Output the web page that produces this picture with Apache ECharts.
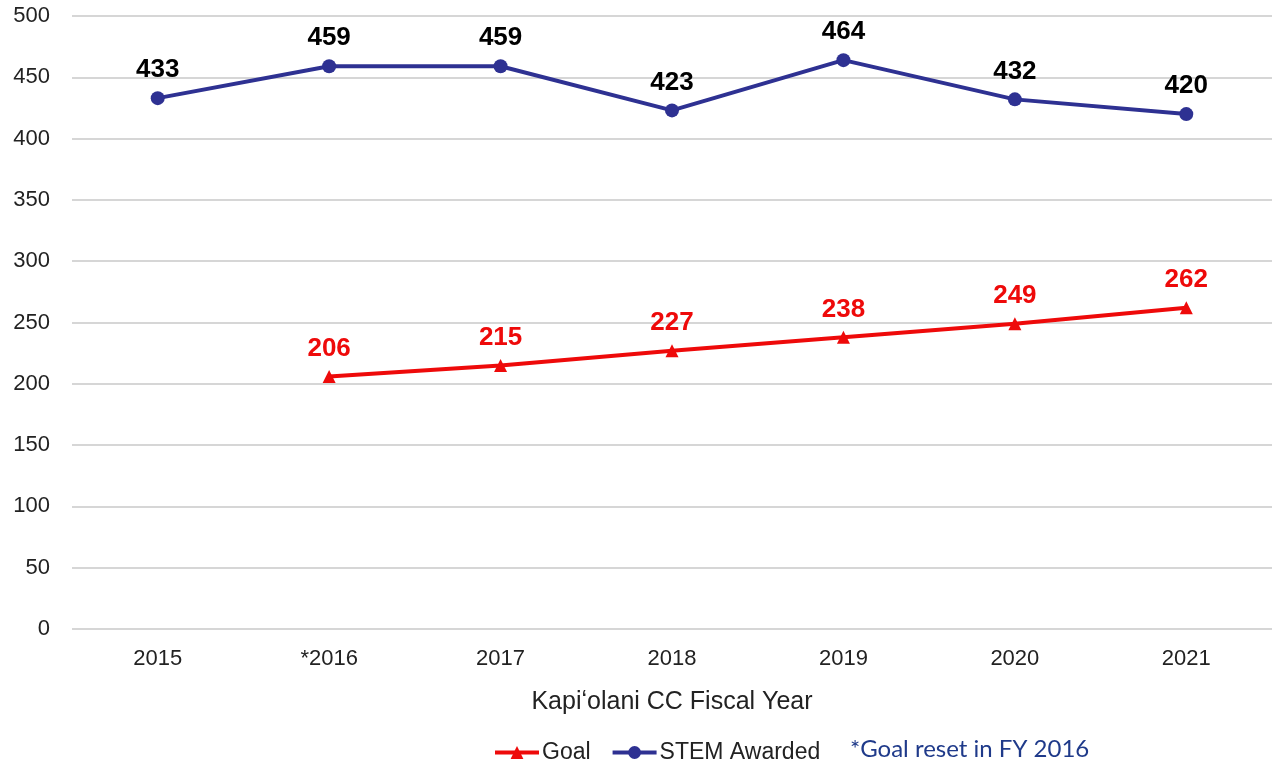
<!DOCTYPE html>
<html>
<head>
<meta charset="utf-8">
<script src="https://cdn.jsdelivr.net/npm/echarts@6/dist/echarts.min.js"></script>
<style>
  html, body { margin: 0; padding: 0; background: #fff; }
  #chart { width: 1272px; height: 761px; }
</style>
</head>
<body>
<div id="chart"></div>
<script>
// Fiscal years on the category axis
const years = ['2015', '*2016', '2017', '2018', '2019', '2020', '2021'];
// STEM degrees and certificates awarded
const stemAwarded = [433, 459, 459, 423, 464, 432, 420];
// Goal (reset in FY 2016, so no value for 2015)
const goal = [null, 206, 215, 227, 238, 249, 262];
// Value axis ticks
const yMin = 0, yMax = 500, yStep = 50;

const chart = echarts.init(document.getElementById('chart'), null, { renderer: 'canvas' });

const NAVY = '#2e3192';
const RED = '#ee0a0a';
const FONT = '"Liberation Sans", Arial, sans-serif';

chart.setOption({
  animation: false,
  backgroundColor: '#ffffff',
  grid: { left: 72, top: 16, width: 1212, height: 613, containLabel: false },
  xAxis: {
    type: 'category',
    data: years,
    boundaryGap: true,
    axisLine: { show: false },
    axisTick: { show: false },
    axisLabel: { color: '#222', fontSize: 22, fontFamily: FONT, margin: 19 },
    name: 'Kapiʻolani CC Fiscal Year',
    nameLocation: 'middle',
    nameGap: 61,
    nameTextStyle: { color: '#222', fontSize: 25, fontFamily: FONT }
  },
  yAxis: {
    type: 'value',
    min: yMin, max: yMax, interval: yStep,
    axisLine: { show: false },
    axisTick: { show: false },
    axisLabel: { color: '#222', fontSize: 22, fontFamily: FONT, margin: 22 },
    splitLine: { lineStyle: { color: '#c8c8c8', width: 1.5 } }
  },
  legend: {
    top: 736,
    left: 488,
    itemGap: 20,
    itemWidth: 44,
    itemHeight: 16,
    lineStyle: { width: 4 },
    textStyle: { color: '#222', fontSize: 23, fontFamily: FONT, padding: [0, 0, 0, -2] },
    data: ['Goal', 'STEM Awarded']
  },
  graphic: [{
    type: 'text',
    left: 850,
    top: 737,
    style: {
      text: '*Goal reset in FY 2016',
      fill: '#1f3a8a',
      font: '24px Lato, "Open Sans", sans-serif'
    }
  }],
  series: [
    {
      name: 'Goal',
      type: 'line',
      data: goal,
      color: RED,
      symbol: 'triangle',
      symbolSize: 13,
      lineStyle: { color: RED, width: 4 },
      itemStyle: { color: RED },
      label: {
        show: true, position: 'top', distance: 8,
        color: RED, fontSize: 26, fontWeight: 'bold', fontFamily: FONT
      }
    },
    {
      name: 'STEM Awarded',
      type: 'line',
      data: stemAwarded,
      color: NAVY,
      symbol: 'circle',
      symbolSize: 14,
      lineStyle: { color: NAVY, width: 4 },
      itemStyle: { color: NAVY },
      label: {
        show: true, position: 'top', distance: 8,
        color: '#000', fontSize: 26, fontWeight: 'bold', fontFamily: FONT
      }
    }
  ]
});
</script>
</body>
</html>
